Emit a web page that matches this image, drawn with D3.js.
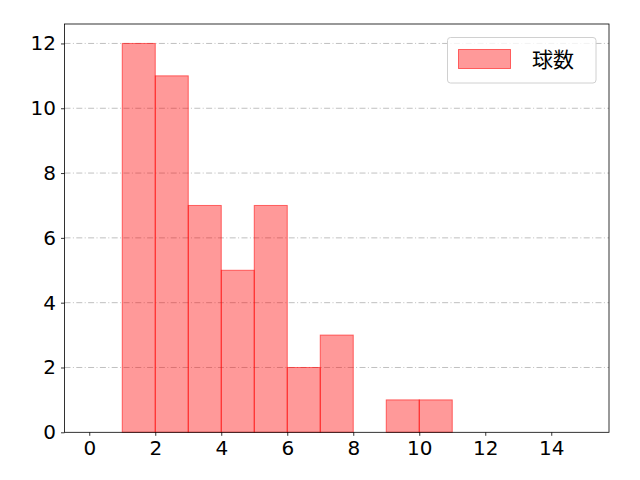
<!DOCTYPE html>
<html>
<head>
<meta charset="utf-8">
<script src="https://cdn.jsdelivr.net/npm/d3@7"></script>
<style>
  body { margin: 0; background: #fff; }
  svg { display: block; }
</style>
</head>
<body>
<svg id="chart" width="640" height="480"></svg>
<script>
// histogram bins (left edges) and counts
var binStart = [1, 2, 3, 4, 5, 6, 7, 8, 9, 10];
var counts = [12, 11, 7, 5, 7, 2, 3, 0, 1, 1];
var xTicks = [0, 2, 4, 6, 8, 10, 12, 14];
var yTicks = [0, 2, 4, 6, 8, 10, 12];
var seriesName = "球数";

var svg = d3.select("#chart");
var pLeft = 64.5, pRight = 609, pTop = 24, pBottom = 432.3;
var numFont = "'DejaVu Sans', sans-serif";
var jpFont = "'Noto Sans CJK JP', sans-serif";

var x = d3.scaleLinear().domain([-0.75, 15.75]).range([pLeft, pRight]);
var y = d3.scaleLinear().domain([0, 12.6]).range([pBottom, pTop]);

// grid
svg.append("g").selectAll("line")
  .data(yTicks.slice(1))
  .enter().append("line")
  .attr("x1", pLeft).attr("x2", pRight)
  .attr("y1", function (d) { return y(d); })
  .attr("y2", function (d) { return y(d); })
  .attr("stroke", "#b0b0b0")
  .attr("stroke-width", 0.8)
  .attr("stroke-dasharray", "6,2.4,1,2.4");

// bars
svg.append("g").selectAll("rect")
  .data(binStart.map(function (b, i) { return { b: b, c: counts[i] }; }).filter(function (d) { return d.c > 0; }))
  .enter().append("rect")
  .attr("x", function (d) { return x(d.b); })
  .attr("width", function (d) { return x(d.b + 1) - x(d.b); })
  .attr("y", function (d) { return y(d.c); })
  .attr("height", function (d) { return y(0) - y(d.c); })
  .attr("fill", "red")
  .attr("fill-opacity", 0.4)
  .attr("stroke", "red")
  .attr("stroke-opacity", 0.55)
  .attr("stroke-width", 1);

// axes
var xAxis = svg.append("g")
  .attr("transform", "translate(0," + pBottom + ")")
  .call(d3.axisBottom(x).tickValues(xTicks).tickSize(3.5).tickPadding(5).tickSizeOuter(0));
var yAxis = svg.append("g")
  .attr("transform", "translate(" + pLeft + ",0)")
  .call(d3.axisLeft(y).tickValues(yTicks).tickSize(3.5).tickPadding(5).tickSizeOuter(0));
[xAxis, yAxis].forEach(function (a) {
  a.select(".domain").remove();
  a.selectAll("text").attr("font-family", numFont).attr("font-size", "20px").attr("fill", "#000");
  a.selectAll("line").attr("stroke", "#000").attr("stroke-width", 0.8);
});

// frame
svg.append("rect")
  .attr("x", pLeft).attr("y", pTop)
  .attr("width", pRight - pLeft).attr("height", pBottom - pTop)
  .attr("fill", "none").attr("stroke", "#000").attr("stroke-width", 0.8);

// legend
var lg = svg.append("g");
lg.append("rect")
  .attr("x", 447.5).attr("y", 37.5).attr("width", 148.5).attr("height", 45.5)
  .attr("rx", 3).attr("fill", "#fff").attr("fill-opacity", 0.8)
  .attr("stroke", "#d0d0d0").attr("stroke-width", 1);
lg.append("rect")
  .attr("x", 458.5).attr("y", 49.5).attr("width", 52).attr("height", 19)
  .attr("fill", "red").attr("fill-opacity", 0.4)
  .attr("stroke", "red").attr("stroke-opacity", 0.55);
lg.append("text")
  .attr("x", 532).attr("y", 67)
  .attr("font-family", jpFont).attr("font-size", "21px")
  .text(seriesName);
</script>
</body>
</html>
